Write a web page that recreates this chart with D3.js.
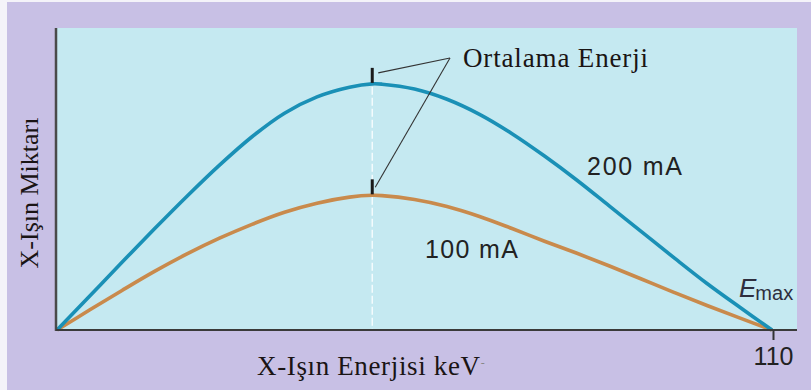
<!DOCTYPE html>
<html><head><meta charset="utf-8">
<script src="https://cdn.jsdelivr.net/npm/d3@7"></script>
<style>body{margin:0;background:#f4f3f9;}svg{display:block;}</style>
</head><body>
<svg id="c" width="811" height="390"></svg>
<script>
// Data (X-ray energy in keV vs relative X-ray quantity)
const energy   = [0,5,10,15,20,25,30,35,40,45,48.5,50,55,60,65,70,75,80,85,90,95,100,105,110];
const mA200    = [0,11.2,22.4,33.5,44.3,54.6,64.0,71.8,77.2,80.4,81.5,81.4,79.8,76.4,71.4,65.0,57.6,49.6,41.0,32.4,23.8,15.4,7.6,0];
const mA100    = [0,6.6,13.1,19.4,25.2,30.4,35.0,39.0,42.0,44.0,44.6,44.5,43.2,40.9,37.6,33.6,29.4,25.4,21.2,16.8,12.4,8.1,4.0,0];
const seriesLabels = ["200 mA","100 mA"];
const meanEnergy = 48.5;
const xTicks = [110];
const xTitle = "X-Işın Enerjisi keV";
const yTitle = "X-Işın Miktarı";
const annot = "Ortalama Enerji";

const svg = d3.select("#c");
svg.append("rect").attr("x",7).attr("y",2).attr("width",804).attr("height",388).attr("fill","#c8c0e5");
const L=56,R=797,T=28,B=330;
svg.append("rect").attr("x",L).attr("y",T).attr("width",R-L).attr("height",B-T).attr("fill","#c5e9f1");

const x = d3.scaleLinear().domain([0,110]).range([57,772]);
const y = d3.scaleLinear().domain([0,100]).range([B,T]);

const peak200 = mA200[energy.indexOf(meanEnergy)], peak100 = mA100[energy.indexOf(meanEnergy)];
svg.append("line").attr("x1",x(meanEnergy)).attr("x2",x(meanEnergy))
  .attr("y1",y(peak200)+3).attr("y2",B).attr("stroke","#f4fbfd").attr("stroke-width",1.5)
  .attr("stroke-dasharray","8,3");

const line = d3.line().x((d,i)=>x(energy[i])).y(d=>y(d)).curve(d3.curveCatmullRom.alpha(0.5));
svg.append("path").datum(mA100).attr("d",line).attr("fill","none").attr("stroke","#c98a4c").attr("stroke-width",3.6);
svg.append("path").datum(mA200).attr("d",line).attr("fill","none").attr("stroke","#1a90b6").attr("stroke-width",3.6);

[peak200,peak100].forEach(p=>{
  svg.append("line").attr("x1",x(meanEnergy)).attr("x2",x(meanEnergy))
    .attr("y1",y(p)-16).attr("y2",y(p)-1).attr("stroke","#1a1a1a").attr("stroke-width",3);
});
const ax = 450, ay = 58;
svg.append("line").attr("x1",x(meanEnergy)+6).attr("y1",y(peak200)-11).attr("x2",ax).attr("y2",ay).attr("stroke","#333").attr("stroke-width",1.1);
svg.append("line").attr("x1",x(meanEnergy)+3).attr("y1",y(peak100)-8).attr("x2",ax).attr("y2",ay).attr("stroke","#333").attr("stroke-width",1.1);
svg.append("text").attr("x",463).attr("y",67).attr("font-family","Liberation Serif, serif").attr("font-size",27)
  .attr("fill","#1a1414").attr("textLength",185).text(annot);

svg.append("line").attr("x1",L).attr("x2",L).attr("y1",T).attr("y2",B+1).attr("stroke","#4a4a4a").attr("stroke-width",2.5);
svg.append("line").attr("x1",L).attr("x2",R).attr("y1",B).attr("y2",B).attr("stroke","#3a3a3a").attr("stroke-width",2);
const xAxis = svg.append("g").attr("transform",`translate(1,${B})`)
  .call(d3.axisBottom(x).tickValues(xTicks).tickSize(10).tickFormat(d3.format("d")));
xAxis.select(".domain").remove();
xAxis.selectAll("line").attr("stroke","#333").attr("stroke-width",2);
xAxis.selectAll("text").attr("font-family","Liberation Sans, Arial, sans-serif").attr("font-size",25)
  .attr("fill","#222").attr("dy",0).attr("y",35);

svg.append("text").attr("x",587).attr("y",175).attr("font-family","Liberation Sans, Arial, sans-serif").attr("font-size",25).attr("fill","#222").attr("textLength",95).text(seriesLabels[0]);
svg.append("text").attr("x",425).attr("y",258).attr("font-family","Liberation Sans, Arial, sans-serif").attr("font-size",25).attr("fill","#222").attr("textLength",93).text(seriesLabels[1]);
const em = svg.append("text").attr("x",739).attr("y",297).attr("font-family","Liberation Sans, Arial, sans-serif").attr("fill","#2e2e3e");
em.append("tspan").attr("font-size",26).attr("font-style","italic").text("E");
em.append("tspan").attr("font-size",20).attr("dy",3).attr("dx",-1).text("max");

const xt = svg.append("text").attr("x",257).attr("y",375).attr("font-family","Liberation Serif, serif").attr("font-size",27).attr("fill","#1a1414");
xt.append("tspan").attr("textLength",223).text(xTitle);
xt.append("tspan").attr("font-size",12).attr("dy",-8).attr("fill","#888").text("-");
svg.append("text").attr("transform","translate(38,193) rotate(-90)").attr("text-anchor","middle")
  .attr("font-family","Liberation Serif, serif").attr("font-size",26).attr("fill","#1a1414").text(yTitle);
</script>
</body></html>
